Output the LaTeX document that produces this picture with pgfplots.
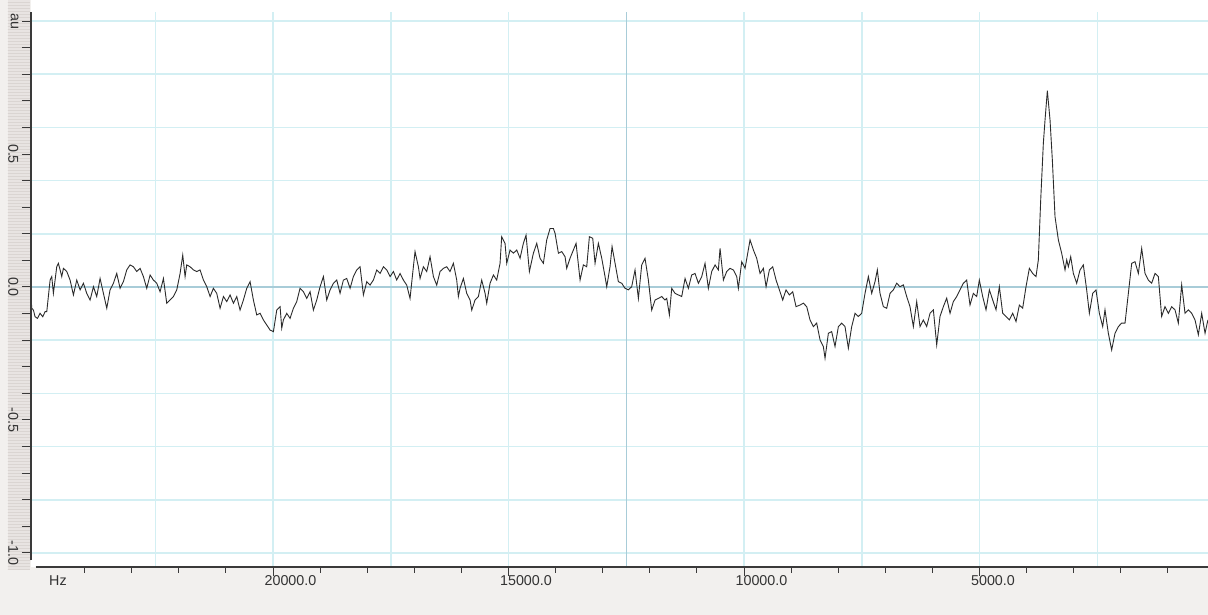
\documentclass[border=0pt]{standalone}
\usepackage{pgfplots}
\pgfplotsset{compat=1.18}
\usepackage{fontspec}
\setmainfont{Liberation Sans}
\usetikzlibrary{patterns}
\definecolor{bgc}{HTML}{F2F0EE}
\definecolor{bandc}{HTML}{E8E4E2}
\definecolor{stripec}{HTML}{DAD5D2}
\definecolor{gridc}{HTML}{D3EFF3}
\definecolor{gridd}{HTML}{A8CCD8}
\definecolor{curvec}{HTML}{2B2B2B}
\definecolor{axisc}{HTML}{3A3A3A}
\definecolor{labc}{HTML}{333333}
\pgfplotstableread{
x y
25138 -0.036
25124 -0.080
25088 -0.087
25053 -0.112
25003 -0.118
24947 -0.099
24890 -0.112
24841 -0.093
24805 -0.093
24734 0.026
24699 0.039
24664 -0.024
24593 0.076
24558 0.089
24522 0.064
24487 0.039
24451 0.070
24380 0.058
24310 0.026
24239 -0.030
24168 0.026
24097 -0.011
24027 0.014
23956 -0.024
23885 -0.049
23814 0.001
23744 -0.036
23673 0.032
23602 -0.024
23531 -0.080
23461 -0.011
23390 0.014
23319 0.051
23248 -0.005
23178 0.020
23107 0.064
23036 0.083
22965 0.076
22894 0.058
22824 0.070
22753 0.039
22682 -0.005
22611 0.045
22541 0.026
22470 0.014
22399 -0.018
22328 0.032
22258 -0.061
22187 -0.049
22116 -0.036
22045 -0.011
21974 0.051
21918 0.120
21868 0.039
21833 0.083
21762 0.076
21691 0.064
21621 0.058
21550 0.064
21479 0.026
21408 0.001
21337 -0.036
21267 -0.005
21196 -0.024
21125 -0.080
21054 -0.036
20984 -0.055
20913 -0.030
20842 -0.061
20771 -0.036
20701 -0.087
20630 -0.049
20559 -0.005
20488 0.020
20418 -0.049
20347 -0.105
20276 -0.099
20205 -0.124
20134 -0.143
20064 -0.162
19993 -0.168
19922 -0.087
19851 -0.074
19816 -0.155
19781 -0.124
19710 -0.099
19639 -0.118
19568 -0.080
19498 -0.055
19427 -0.005
19356 -0.018
19285 -0.043
19214 -0.018
19144 -0.087
19073 -0.049
19002 0.001
18931 0.039
18861 -0.049
18790 -0.011
18719 0.014
18648 0.026
18578 -0.024
18507 0.026
18436 0.032
18365 -0.005
18295 0.039
18224 0.064
18153 0.076
18082 -0.030
18011 0.020
17941 0.007
17870 0.026
17799 0.064
17728 0.051
17658 0.076
17587 0.064
17516 0.039
17445 0.058
17375 0.026
17304 0.051
17233 0.026
17162 0.007
17092 -0.043
17021 0.076
16986 0.133
16915 0.076
16879 0.032
16809 0.076
16738 0.058
16667 0.114
16596 0.039
16526 0.007
16455 0.058
16384 0.070
16313 0.076
16243 0.058
16172 0.089
16101 0.026
16066 -0.036
16030 -0.005
15959 0.032
15889 -0.024
15818 -0.049
15782 -0.087
15712 -0.049
15641 -0.036
15570 0.026
15499 -0.024
15464 -0.061
15393 0.014
15322 0.045
15252 0.026
15181 0.089
15146 0.189
15075 0.164
15039 0.089
14969 0.139
14898 0.127
14827 0.139
14756 0.108
14686 0.164
14629 0.195
14558 0.058
14473 0.127
14402 0.164
14332 0.108
14261 0.089
14190 0.177
14119 0.220
14049 0.220
14013 0.202
13942 0.127
13872 0.133
13801 0.114
13766 0.070
13695 0.108
13624 0.139
13567 0.164
13482 0.026
13412 0.083
13341 0.076
13284 0.189
13213 0.183
13164 0.089
13093 0.164
13022 0.108
12952 0.039
12916 0.001
12846 0.076
12803 0.152
12739 0.089
12669 0.020
12598 0.014
12527 -0.005
12456 -0.011
12386 0.001
12315 0.064
12244 -0.043
12173 0.083
12103 0.108
12032 0.026
11961 -0.087
11890 -0.049
11819 -0.043
11749 -0.036
11678 -0.049
11642 -0.043
11586 -0.105
11536 -0.005
11466 -0.024
11395 -0.030
11324 -0.036
11253 0.032
11183 -0.005
11112 0.045
11041 0.051
10970 0.014
10899 0.039
10829 0.089
10758 -0.005
10687 0.058
10616 0.083
10546 0.064
10510 0.145
10439 0.026
10369 0.058
10298 0.070
10227 0.064
10156 0.039
10121 -0.005
10050 0.095
9979 0.070
9873 0.177
9802 0.139
9732 0.108
9661 0.051
9590 0.070
9533 0.001
9463 0.064
9392 0.076
9321 0.026
9250 -0.011
9180 -0.049
9109 -0.011
9038 -0.030
8967 -0.018
8897 -0.074
8812 -0.068
8741 -0.061
8670 -0.074
8600 -0.124
8529 -0.149
8458 -0.136
8387 -0.199
8317 -0.224
8281 -0.268
8210 -0.174
8140 -0.168
8069 -0.224
7998 -0.149
7927 -0.136
7857 -0.149
7786 -0.230
7715 -0.149
7644 -0.099
7574 -0.111
7503 -0.099
7432 -0.024
7361 0.039
7290 -0.024
7220 0.020
7170 0.064
7114 -0.024
7043 -0.074
6972 -0.080
6901 -0.024
6830 -0.011
6760 0.014
6689 0.001
6618 0.008
6547 -0.036
6477 -0.074
6406 -0.149
6335 -0.055
6264 -0.149
6194 -0.124
6123 -0.149
6052 -0.099
5981 -0.086
5910 -0.218
5840 -0.111
5769 -0.074
5698 -0.042
5627 -0.099
5557 -0.055
5486 -0.036
5415 -0.011
5344 0.014
5274 0.026
5203 -0.068
5132 -0.024
5061 -0.036
5005 0.026
4934 -0.036
4863 -0.086
4792 -0.011
4721 -0.049
4651 -0.086
4580 0.001
4509 -0.099
4438 -0.111
4368 -0.124
4297 -0.099
4226 -0.130
4155 -0.068
4085 -0.080
4014 0.001
3943 0.070
3872 0.051
3802 0.039
3752 0.102
3702 0.327
3646 0.540
3610 0.628
3561 0.738
3504 0.628
3455 0.478
3398 0.264
3327 0.177
3257 0.127
3186 0.064
3150 0.102
3115 0.076
3065 0.114
3009 0.051
2938 0.014
2867 0.064
2797 0.083
2726 -0.011
2669 -0.099
2598 -0.024
2528 -0.011
2457 -0.099
2386 -0.149
2337 -0.086
2266 -0.174
2195 -0.237
2124 -0.174
2054 -0.149
1983 -0.136
1912 -0.136
1841 -0.024
1770 0.089
1700 0.095
1629 0.051
1558 0.145
1487 0.051
1417 0.026
1346 0.014
1275 0.051
1204 0.039
1134 -0.111
1063 -0.074
992 -0.099
921 -0.074
851 -0.086
780 -0.136
709 0.008
638 -0.099
568 -0.086
497 -0.099
426 -0.124
355 -0.180
284 -0.099
213 -0.174
152 -0.124
}\spec
\begin{document}
\begin{tikzpicture}
\fill[bgc] (-31pt,-48pt) rectangle (1177pt,567pt);
\fill[bandc] (-23pt,-3pt) rectangle (-1pt,567pt);
\fill[pattern=horizontal lines, pattern color=stripec] (-23pt,-3pt) rectangle (-1pt,567pt);
\fill[white] (0pt,555pt) rectangle (1177pt,567pt);
\begin{axis}[
  at={(0pt,0pt)}, anchor=south west,
  scale only axis, width=1177pt, height=555pt,
  xmin=150, xmax=25140, ymin=-1.053, ymax=1.034,
  x dir=reverse,
  clip=false,
  scaled x ticks=false, scaled y ticks=false,
  axis background/.style={fill=white},
  axis line style={draw=none},
  xtick={20000,15000,10000,5000},
  xticklabels={20000.0,15000.0,10000.0,5000.0},
  minor xtick={24000,23000,22000,21000,19000,18000,17000,16000,14000,13000,12000,11000,9000,8000,7000,6000,4000,3000,2000,1000},
  ytick={-1,-0.9,-0.8,-0.7,-0.6,-0.5,-0.4,-0.3,-0.2,-0.1,0,0.1,0.2,0.3,0.4,0.5,0.6,0.7,0.8,0.9,1},
  yticklabels={-1.0,,,,,-0.5,,,,,0.0,,,,,0.5,,,,,au},
  tick align=outside,
  major tick length=9pt, minor tick length=6pt,
  xtick pos=left, ytick pos=left,
  tick style={draw=axisc, line width=1pt},
  tick label style={font=\fontsize{14.3}{16}\selectfont, text=labc},
  xticklabel style={anchor=north west, xshift=-12pt, yshift=4pt},
  yticklabel style={rotate=-90, anchor=north},
]
\pgfplotsinvokeforeach{22500,20000,17500,15000,10000,7500,5000,2500}{
  \draw[gridc, line width=1.6pt] (axis cs:#1,-1.053) -- (axis cs:#1,1.034);
}
\pgfplotsinvokeforeach{-1,-0.8,-0.6,-0.4,-0.2,0.2,0.4,0.6,0.8,1}{
  \draw[gridc, line width=1.6pt] (axis cs:25140,#1) -- (axis cs:150,#1);
}
\draw[gridd, line width=1.6pt] (axis cs:12500,-1.053) -- (axis cs:12500,1.034);
\draw[gridd, line width=1.6pt] (axis cs:25140,0) -- (axis cs:150,0);
\addplot[curvec, line width=0.9pt, mark=none] table[x=x, y=y] {\spec};
\draw[axisc, line width=1.3pt] (axis description cs:0,0.012) -- (axis description cs:0,1);
\draw[axisc, line width=1.3pt] (axis description cs:0.004,0) -- (axis description cs:1,0);
\node[font=\fontsize{14.3}{16}\selectfont, text=labc, anchor=north, yshift=-5pt] at (axis description cs:0.0229,0) {Hz};
\end{axis}
\pgfresetboundingbox
\useasboundingbox (-31pt,-48pt) rectangle (1177pt,567pt);
\end{tikzpicture}
\end{document}
